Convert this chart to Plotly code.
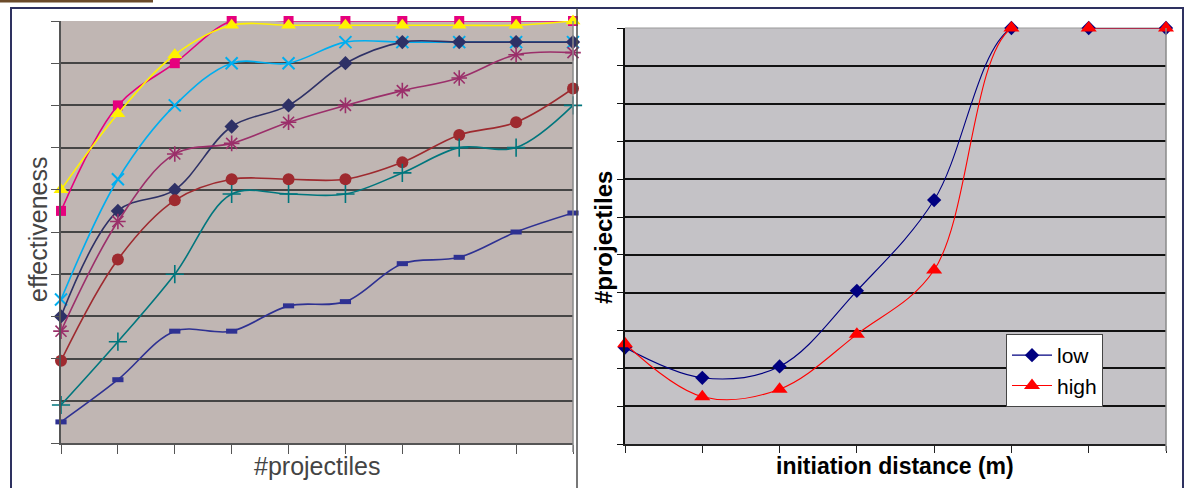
import plotly.graph_objects as go

# ---------------- data ----------------
# left chart: effectiveness vs #projectiles (10 categories, no labels)
proj = [1, 2, 3, 4, 5, 6, 7, 8, 9, 10]
s_pink = [5.5, 8.0, 9.0, 10.0, 10.0, 10.0, 10.0, 10.0, 10.0, 10.0]
s_yellow = [6.0, 7.8, 9.2, 9.9, 9.9, 9.9, 9.9, 9.9, 9.9, 10.0]
s_cyan = [3.4, 6.25, 8.0, 9.0, 9.0, 9.5, 9.5, 9.5, 9.5, 9.5]
s_navy = [3.0, 5.5, 6.0, 7.5, 8.0, 9.0, 9.5, 9.5, 9.5, 9.5]
s_purple = [2.65, 5.25, 6.85, 7.1, 7.6, 8.0, 8.35, 8.65, 9.2, 9.25]
s_darkred = [1.95, 4.35, 5.75, 6.25, 6.25, 6.25, 6.65, 7.3, 7.6, 8.4]
s_teal = [0.9, 2.4, 4.0, 5.9, 5.9, 5.9, 6.4, 7.0, 7.0, 8.0]
s_blue = [0.5, 1.5, 2.65, 2.65, 3.25, 3.35, 4.25, 4.4, 5.0, 5.45]

# right chart: #projectiles vs initiation distance (8 categories, no labels)
dist = [1, 2, 3, 4, 5, 6, 7, 8]
low = [2.55, 1.75, 2.05, 4.05, 6.45, 11.0, 11.0, 11.0]
high = [2.65, 1.25, 1.45, 2.9, 4.6, 11.0, 11.0, 11.0]

W, H = 1186, 488


def px_x(p):
    return p / W


def px_y(p):
    return 1 - p / H


fig = go.Figure()

left_series = [
    ("series 1", s_pink, "#E6007E", "square", 10, 0),
    ("series 2", s_yellow, "#FFF200", "triangle-up", 13, 0),
    ("series 3", s_cyan, "#00AEEF", "x-thin-open", 12, 2),
    ("series 4", s_navy, "#2E3166", "diamond", 11, 0),
    ("series 5", s_purple, "#9B2F6A", "asterisk-open", 13, 1.6),
    ("series 6", s_darkred, "#9E2A2F", "circle", 12, 0),
    ("series 7", s_teal, "#00767D", "cross-thin-open", 13, 1.6),
    ("series 8", s_blue, "#2E3192", "line-ew-open", 8, 5),
]
for name, vals, col, sym, size, lw in left_series:
    mk = dict(symbol=sym, size=size, color=col)
    if lw:
        mk["line"] = dict(color=col, width=lw)
    fig.add_trace(go.Scatter(
        x=proj, y=vals, name=name, mode="lines+markers",
        line=dict(color=col, width=1.6, shape="spline", smoothing=1),
        marker=mk, cliponaxis=False, showlegend=False,
        xaxis="x", yaxis="y"))

fig.add_trace(go.Scatter(
    x=dist, y=low, name="low", mode="lines+markers",
    line=dict(color="#000080", width=1.1, shape="spline", smoothing=1),
    marker=dict(symbol="diamond", size=11, color="#000080"),
    cliponaxis=False, xaxis="x2", yaxis="y2"))
fig.add_trace(go.Scatter(
    x=dist, y=high, name="high", mode="lines+markers",
    line=dict(color="#FF0000", width=1.1, shape="spline", smoothing=1),
    marker=dict(symbol="triangle-up", size=14, color="#FF0000"),
    cliponaxis=False, xaxis="x2", yaxis="y2"))

common = dict(showticklabels=False, ticks="outside", zeroline=False)

fig.update_layout(
    width=W, height=H,
    margin=dict(l=0, r=0, t=0, b=0),
    paper_bgcolor="white",
    font=dict(family="Liberation Sans, Arial, sans-serif"),
    xaxis=dict(domain=[px_x(61), px_x(573)], range=[1, 10], tickvals=proj,
               showgrid=False, showline=True, linecolor="#555555", linewidth=1.5,
               tickcolor="#555555", ticklen=9, tickwidth=1.2, anchor="y", **common),
    yaxis=dict(domain=[px_y(443), px_y(21)], range=[0, 10], tickvals=list(range(11)),
               showgrid=True, gridcolor="#454545", gridwidth=1.5,
               showline=True, linecolor="#555555", linewidth=1.5,
               tickcolor="#555555", ticklen=8, tickwidth=1.2, anchor="x", **common),
    xaxis2=dict(domain=[px_x(625), px_x(1166)], range=[1, 8], tickvals=dist,
                showgrid=False, showline=True, linecolor="#222222", linewidth=1.5,
                tickcolor="#222222", ticklen=7, tickwidth=1.2, anchor="y2", **common),
    yaxis2=dict(domain=[px_y(444), px_y(28)], range=[0, 11], tickvals=list(range(12)),
                showgrid=True, gridcolor="#111111", gridwidth=1.8,
                showline=True, linecolor="#111111", linewidth=1.8,
                tickcolor="#111111", ticklen=6, tickwidth=1.2, anchor="x2", **common),
    plot_bgcolor="rgba(0,0,0,0)",
    legend=dict(x=px_x(1006), y=px_y(334), xanchor="left", yanchor="top",
                bgcolor="white", bordercolor="#444444", borderwidth=1,
                font=dict(family="Liberation Sans, Arial, sans-serif", size=21, color="black"),
                tracegroupgap=2, itemwidth=40),
)

shapes = [
    # plot backgrounds
    dict(type="rect", xref="paper", yref="paper", x0=px_x(61), x1=px_x(573),
         y0=px_y(443), y1=px_y(21), fillcolor="#C0B6B3", line=dict(width=0), layer="below"),
    dict(type="rect", xref="paper", yref="paper", x0=px_x(625), x1=px_x(1166),
         y0=px_y(444), y1=px_y(28), fillcolor="#C4C2C6", line=dict(width=0), layer="below"),
    # plot right / top edges
    dict(type="line", xref="paper", yref="paper", x0=px_x(573), x1=px_x(573),
         y0=px_y(452), y1=px_y(21), line=dict(color="#8A8A8A", width=1.5)),
    dict(type="line", xref="paper", yref="paper", x0=px_x(1166), x1=px_x(1166),
         y0=px_y(451), y1=px_y(28), line=dict(color="#8A8A8A", width=1.5)),
    dict(type="line", xref="paper", yref="paper", x0=px_x(625), x1=px_x(1166),
         y0=px_y(28), y1=px_y(28), line=dict(color="#9A9A9A", width=1.2), layer="below"),
    # outer frames
    dict(type="line", xref="paper", yref="paper", x0=px_x(10), x1=px_x(1184),
         y0=px_y(8), y1=px_y(8), line=dict(color="#2E3160", width=2)),
    dict(type="line", xref="paper", yref="paper", x0=px_x(11), x1=px_x(11),
         y0=px_y(488), y1=px_y(8), line=dict(color="#2E3160", width=2)),
    dict(type="line", xref="paper", yref="paper", x0=px_x(577), x1=px_x(577),
         y0=px_y(488), y1=px_y(8), line=dict(color="#4A4A4A", width=1.5)),
    dict(type="line", xref="paper", yref="paper", x0=px_x(1183), x1=px_x(1183),
         y0=px_y(488), y1=px_y(8), line=dict(color="#2E3160", width=2)),
    # brown bar top-left
    dict(type="rect", xref="paper", yref="paper", x0=0, x1=px_x(153),
         y0=px_y(2.5), y1=1, fillcolor="#6B4A2A", line=dict(width=0)),
]
fig.update_layout(shapes=shapes)

annotations = [
    dict(text="effectiveness", x=px_x(38), y=px_y(230), xref="paper", yref="paper",
         showarrow=False, textangle=-90, xanchor="center", yanchor="middle",
         font=dict(size=25, color="#444444")),
    dict(text="#projectiles", x=px_x(317), y=px_y(466), xref="paper", yref="paper",
         showarrow=False, xanchor="center", yanchor="middle",
         font=dict(size=25, color="#444444")),
    dict(text="<b>#projectiles</b>", x=px_x(604), y=px_y(237), xref="paper", yref="paper",
         showarrow=False, textangle=-90, xanchor="center", yanchor="middle",
         font=dict(size=24, color="black")),
    dict(text="<b>initiation distance (m)</b>", x=px_x(895), y=px_y(466), xref="paper",
         yref="paper", showarrow=False, xanchor="center", yanchor="middle",
         font=dict(size=23, color="black")),
]
fig.update_layout(annotations=annotations)

fig.write_html("out.html", config={"displayModeBar": False},
               post_script="document.body.style.margin='0';")
